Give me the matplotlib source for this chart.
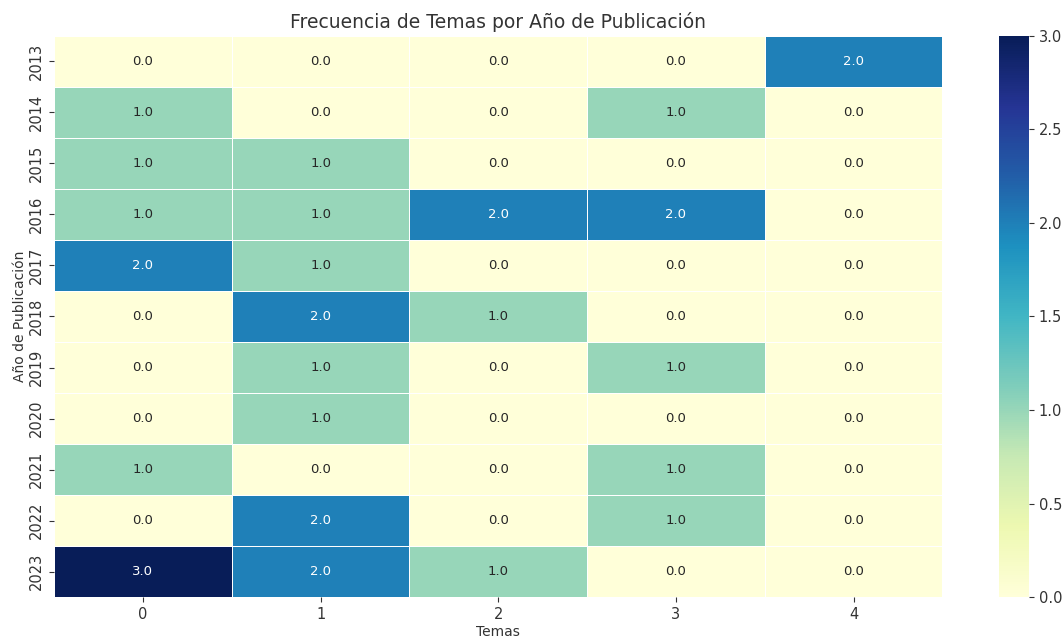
import matplotlib
matplotlib.use("Agg")
import matplotlib.pyplot as plt
import numpy as np
import pandas as pd
import seaborn as sns

years = [2013, 2014, 2015, 2016, 2017, 2018, 2019, 2020, 2021, 2022, 2023]
topics = [0, 1, 2, 3, 4]
t0 = [0, 1, 1, 1, 2, 0, 0, 0, 1, 0, 3]
t1 = [0, 0, 1, 1, 1, 2, 1, 1, 0, 2, 2]
t2 = [0, 0, 0, 2, 0, 1, 0, 0, 0, 0, 1]
t3 = [0, 1, 0, 2, 0, 0, 1, 0, 1, 1, 0]
t4 = [2, 0, 0, 0, 0, 0, 0, 0, 0, 0, 0]

df = pd.DataFrame({0: t0, 1: t1, 2: t2, 3: t3, 4: t4}, index=years).astype(float)

plt.rcParams['font.family'] = ['DejaVu Sans']
plt.rcParams['text.color'] = '#333333'
plt.rcParams['axes.labelcolor'] = '#333333'
plt.rcParams['xtick.color'] = '#333333'
plt.rcParams['ytick.color'] = '#333333'

fig = plt.figure(figsize=(10.64, 6.39), dpi=100)
ax = fig.add_axes([0.0508, 0.0657, 0.835, 0.878])
cax = fig.add_axes([0.939, 0.0657, 0.028, 0.878])

sns.heatmap(df, ax=ax, cbar_ax=cax, cmap="YlGnBu", annot=True, fmt=".1f",
            linewidths=0.6, linecolor="white", annot_kws={"fontsize": 9.5},
            vmin=0, vmax=3)
ax.set_title("Frecuencia de Temas por Año de Publicación", fontsize=13.5, pad=6)
ax.set_xlabel("Temas", fontsize=10, labelpad=2)
ax.set_ylabel("Año de Publicación", fontsize=10, labelpad=2)
ax.tick_params(axis='both', labelsize=10.5, length=3.5, width=0.8)
ax.set_yticklabels(ax.get_yticklabels(), rotation=90, va='center')
cax.tick_params(labelsize=10.5, length=3.5, width=0.8)
cax.set_yticks([0, 0.5, 1.0, 1.5, 2.0, 2.5, 3.0])
cax.set_yticklabels(["0.0", "0.5", "1.0", "1.5", "2.0", "2.5", "3.0"])

fig.savefig("out.png", dpi=100)
